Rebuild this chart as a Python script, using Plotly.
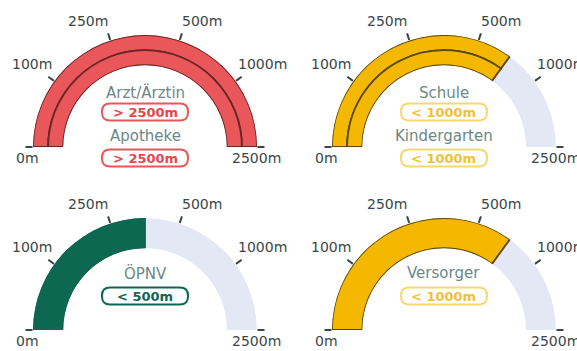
import math
import plotly.graph_objects as go

W, H = 577, 351

# Distance scale of every gauge (equal angular steps between labels)
distance_ticks = ["0m", "100m", "250m", "500m", "1000m", "2500m"]

# Gauge 1: medical care
medical_names = ["Arzt/Ärztin", "Apotheke"]
medical_values = ["> 2500m", "> 2500m"]

# Gauge 2: education
education_names = ["Schule", "Kindergarten"]
education_values = ["< 1000m", "< 1000m"]

# Gauge 3: public transport
transit_names = ["ÖPNV"]
transit_values = ["< 500m"]

# Gauge 4: shopping
supply_names = ["Versorger"]
supply_values = ["< 1000m"]

TRACK = "#e4e8f4"
TICK = "#3b4646"
NAME = "#6c8786"
FONT = "DejaVu Sans"
TICKLEN = 7

STEP = 180 / (len(distance_ticks) - 1)


def fill_level(value):
    """Scale position reached by a '< X' / '> X' distance class."""
    op, dist = value.split(" ")
    idx = distance_ticks.index(dist)
    return idx - 0.5 if op == "<" else idx


def to_theta(pos):
    """Scale position (0 = left end) -> polar angle in degrees (180 = left, 0 = right)."""
    return 180 - pos * STEP


# (names, values, fill, outline, box text colour, box border colour, pixel box of the gauge)
panels = [
    (medical_names, medical_values, "#e9575b", "#6b2626", "#e4474c", "#e9575b", (33, 35, 257, 147)),
    (education_names, education_values, "#f4b800", "#5a4712", "#f1c232", "#f6d772", (332, 35, 556, 147)),
    (transit_names, transit_values, "#0d6852", "#0d6852", "#0d6852", "#0d6852", (33, 218, 257, 330)),
    (supply_names, supply_values, "#f4b800", "#5a4712", "#f1c232", "#f6d772", (332, 218, 556, 330)),
]


def px(x, y):
    return x / W, 1 - y / H


def pill_path(cx, cy, w, h, r):
    """Rounded rectangle in paper coordinates, built from pixel sizes."""
    x0, x1 = cx - w / 2, cx + w / 2
    y0, y1 = cy - h / 2, cy + h / 2

    def P(x, y):
        a, b = px(x, y)
        return f"{a:.5f},{b:.5f}"

    return (
        f"M {P(x0 + r, y0)} L {P(x1 - r, y0)} Q {P(x1, y0)} {P(x1, y0 + r)} "
        f"L {P(x1, y1 - r)} Q {P(x1, y1)} {P(x1 - r, y1)} "
        f"L {P(x0 + r, y1)} Q {P(x0, y1)} {P(x0, y1 - r)} "
        f"L {P(x0, y0 + r)} Q {P(x0, y0)} {P(x0 + r, y0)} Z"
    )


fig = go.Figure()
layout_polars = {}
annotations = []
shapes = []

for k, (names, values, fill, outline, box_txt, box_line, box) in enumerate(panels):
    sub = "polar" if k == 0 else f"polar{k + 1}"
    x0, y0, x1, y1 = box
    xa, ya_top = px(x0, y0)
    xb, ya_bot = px(x1, y1)
    cx = (x0 + x1) / 2
    base_y = y1
    R = (x1 - x0) / 2

    # light background track over the whole scale
    fig.add_trace(go.Barpolar(
        r=[2], theta=[90], width=[180], base=[0],
        marker=dict(color=TRACK, line=dict(width=0)),
        subplot=sub, hoverinfo="skip", showlegend=False,
    ))

    n = len(names)
    thick = 2 / n
    for i, v in enumerate(values):
        lvl = fill_level(v)
        span = lvl * STEP
        fig.add_trace(go.Barpolar(
            r=[thick], theta=[to_theta(lvl / 2)], width=[span], base=[2 - (i + 1) * thick],
            marker=dict(color=fill, line=dict(color=outline, width=1.8)),
            subplot=sub, hoverinfo="skip", showlegend=False, name=names[i],
        ))

    layout_polars[sub] = dict(
        domain=dict(x=[xa, xb], y=[ya_bot, ya_top]),
        sector=[0, 180],
        hole=0.73,
        bgcolor="rgba(0,0,0,0)",
        radialaxis=dict(visible=False, range=[0, 2]),
        angularaxis=dict(
            tickmode="array",
            tickvals=[to_theta(i) for i in range(len(distance_ticks))],
            ticktext=distance_ticks,
            ticks="outside", ticklen=TICKLEN, tickwidth=2, tickcolor=TICK,
            showline=False, showgrid=False, showticklabels=False,
            layer="above traces",
        ),
    )

    # scale labels next to the tick marks
    last = len(distance_ticks) - 1
    for i, lab in enumerate(distance_ticks):
        t = math.radians(to_theta(i))
        if i == 0:
            lx, ly, anchor = cx - R - 6, base_y + 11, "center"
        elif i == last:
            lx, ly, anchor = cx + R - 1, base_y + 11, "center"
        else:
            lx = cx + R * math.cos(t)
            ly = base_y - (R + TICKLEN) * math.sin(t) - 13
            anchor = "right" if math.cos(t) < 0 else "left"
        ax_, ay_ = px(lx, ly)
        annotations.append(dict(
            x=ax_, y=ay_, xref="paper", yref="paper", text=lab, showarrow=False,
            font=dict(family=FONT, size=14, color=TICK), xanchor=anchor, yanchor="middle",
        ))

    # labels inside the arc
    if n == 2:
        rows = [(-54, -35), (-11, 11)]
    else:
        rows = [(-57, -34)]
    for (name_dy, box_dy), name, v in zip(rows, names, values):
        ax_, ay_ = px(cx, base_y + name_dy)
        annotations.append(dict(
            x=ax_, y=ay_, xref="paper", yref="paper", text=name, showarrow=False,
            font=dict(family=FONT, size=15, color=NAME), xanchor="center", yanchor="middle",
        ))
        shapes.append(dict(
            type="path", xref="paper", yref="paper",
            path=pill_path(cx, base_y + box_dy, 86, 17, 8),
            line=dict(color=box_line, width=2), fillcolor="white", layer="above",
        ))
        bx, by = px(cx, base_y + box_dy)
        annotations.append(dict(
            x=bx, y=by, xref="paper", yref="paper", text=f"<b>{v}</b>", showarrow=False,
            font=dict(family=FONT, size=13, color=box_txt), xanchor="center", yanchor="middle",
        ))

fig.update_layout(
    width=W, height=H,
    margin=dict(l=0, r=0, t=0, b=0),
    paper_bgcolor="white", plot_bgcolor="white",
    showlegend=False,
    annotations=annotations, shapes=shapes,
    **layout_polars,
)

fig.write_html("out.html")
